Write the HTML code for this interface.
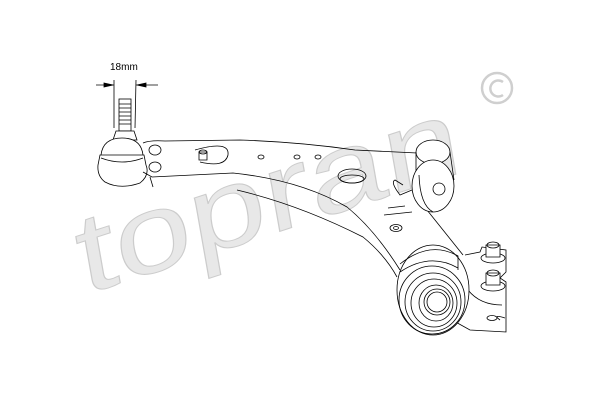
<!DOCTYPE html>
<html><head><style>html,body{margin:0;padding:0;background:#fff}svg{display:block}</style></head>
<body>
<svg width="600" height="400" viewBox="0 0 600 400" xmlns="http://www.w3.org/2000/svg">
<rect width="600" height="400" fill="#fff"/>
<!-- watermark -->
<g transform="translate(84,295) rotate(-18) skewX(-8)">
<text x="0" y="0" font-family="Liberation Sans, sans-serif" font-size="110" fill="#e8e8e8" stroke="#cccccc" stroke-width="1" textLength="400" lengthAdjust="spacingAndGlyphs">topran</text>
</g>
<circle cx="497" cy="88" r="15" fill="none" stroke="#cfcfcf" stroke-width="2.5"/>
<path d="M503 82 A8 8 0 1 0 503 95" fill="none" stroke="#cfcfcf" stroke-width="2.5"/>
<g fill="none" stroke="#000" stroke-width="0.8">
<!-- dimension -->
<text x="110" y="70" font-family="Liberation Sans, sans-serif" font-size="10" fill="#000" stroke="none">18mm</text>
<line x1="114" y1="80" x2="114" y2="128"/><line x1="136" y1="80" x2="135" y2="128"/>
<line x1="96" y1="85" x2="114" y2="85"/><line x1="136" y1="85" x2="158" y2="85"/>
<path d="M104 83 L113 85 L104 87Z" fill="#000"/><path d="M146 83 L137 85 L146 87Z" fill="#000"/>
<!-- stud -->
<rect x="119" y="99" width="12" height="32" fill="#fff"/>
<path d="M119 104h12M119 108h12M119 112h12M119 116h12M119 120h12M119 124h12"/>
<path d="M116 131 L134 131 L137 140 L113 140Z" fill="#fff"/>
<!-- ball joint head -->
<path d="M101 155 Q103 138 122 138 Q141 138 143 155" fill="#fff"/>
<path d="M100 155 L144 155 L146 165 Q150 175 140 183 Q120 190 105 182 Q97 176 98 165Z" fill="#fff"/>
<path d="M101 158 Q122 166 143 158"/>
<!-- arm outline -->
<path d="M143 143 Q150 140 165 141 L240 140 Q300 142 355 150 L417 153"/>
<path d="M143 172 L152 177 L233 173 Q300 180 347 207 Q375 230 400 270"/>
<path d="M150 177 L153 187"/>
<path d="M237 190 Q300 205 363 237 Q385 255 397 277"/>
<path d="M403 185 L395 180 Q390 182 400 195 L412 190"/>
<path d="M427 210 L463 255"/>
<path d="M384 215 L412 212 M388 208 L405 206"/>
<ellipse cx="396" cy="228" rx="6" ry="3.5"/>
<ellipse cx="396" cy="228" rx="2.5" ry="1.5"/>
<!-- holes -->
<ellipse cx="155" cy="150" rx="6" ry="5"/><ellipse cx="155" cy="167" rx="6" ry="5"/>
<path d="M195 150 Q230 140 228 155 Q225 168 200 162"/>
<path d="M199 152 h8 v8 h-8z"/><ellipse cx="203" cy="152" rx="4" ry="2"/>
<ellipse cx="261" cy="157" rx="3" ry="2"/><ellipse cx="297" cy="157" rx="3" ry="2"/><ellipse cx="318" cy="157" rx="3" ry="2"/>
<ellipse cx="352" cy="176" rx="14" ry="7"/><ellipse cx="352" cy="179" rx="12" ry="4"/>
<!-- front bushing -->
<ellipse cx="433" cy="152" rx="17" ry="12" fill="#fff"/>
<path d="M416 152 L416 180 M450 152 L454 180"/>
<ellipse cx="433" cy="186" rx="21" ry="26" fill="#fff"/>
<path d="M419 175 Q420 205 433 212"/>
<circle cx="439" cy="189" r="6"/>
<!-- bracket -->
<path d="M465 255 L480 252 L482 247 L506 250 L506 272 L500 278 L506 282 L506 332 L470 330 L452 320"/>
<path d="M468 290 Q480 305 502 305 M500 320 Q492 314 505 318"/>
<ellipse cx="492" cy="318" rx="5" ry="2.5"/>
<!-- bolts -->
<ellipse cx="493" cy="258" rx="12" ry="5" fill="#fff"/>
<path d="M486 245 L500 245 L500 257 L486 257Z" fill="#fff"/>
<ellipse cx="493" cy="245" rx="6" ry="3"/>
<ellipse cx="493" cy="286" rx="12" ry="5" fill="#fff"/>
<path d="M486 273 L500 273 L500 285 L486 285Z" fill="#fff"/>
<ellipse cx="493" cy="273" rx="6" ry="3"/>
<!-- rear bushing -->
<ellipse cx="433" cy="290" rx="36" ry="45" fill="#fff"/>
<path d="M400 264 Q430 240 458 256 L458 270 M400 272 Q430 252 458 268"/>
<ellipse cx="432" cy="300" rx="33" ry="34"/>
<ellipse cx="433" cy="302" rx="28" ry="29"/>
<ellipse cx="434" cy="303" rx="23" ry="24"/>
<ellipse cx="436" cy="303" rx="17" ry="18"/>
<circle cx="437" cy="302" r="13"/>
<circle cx="437" cy="302" r="10"/>
</g>
</svg>
</body></html>
